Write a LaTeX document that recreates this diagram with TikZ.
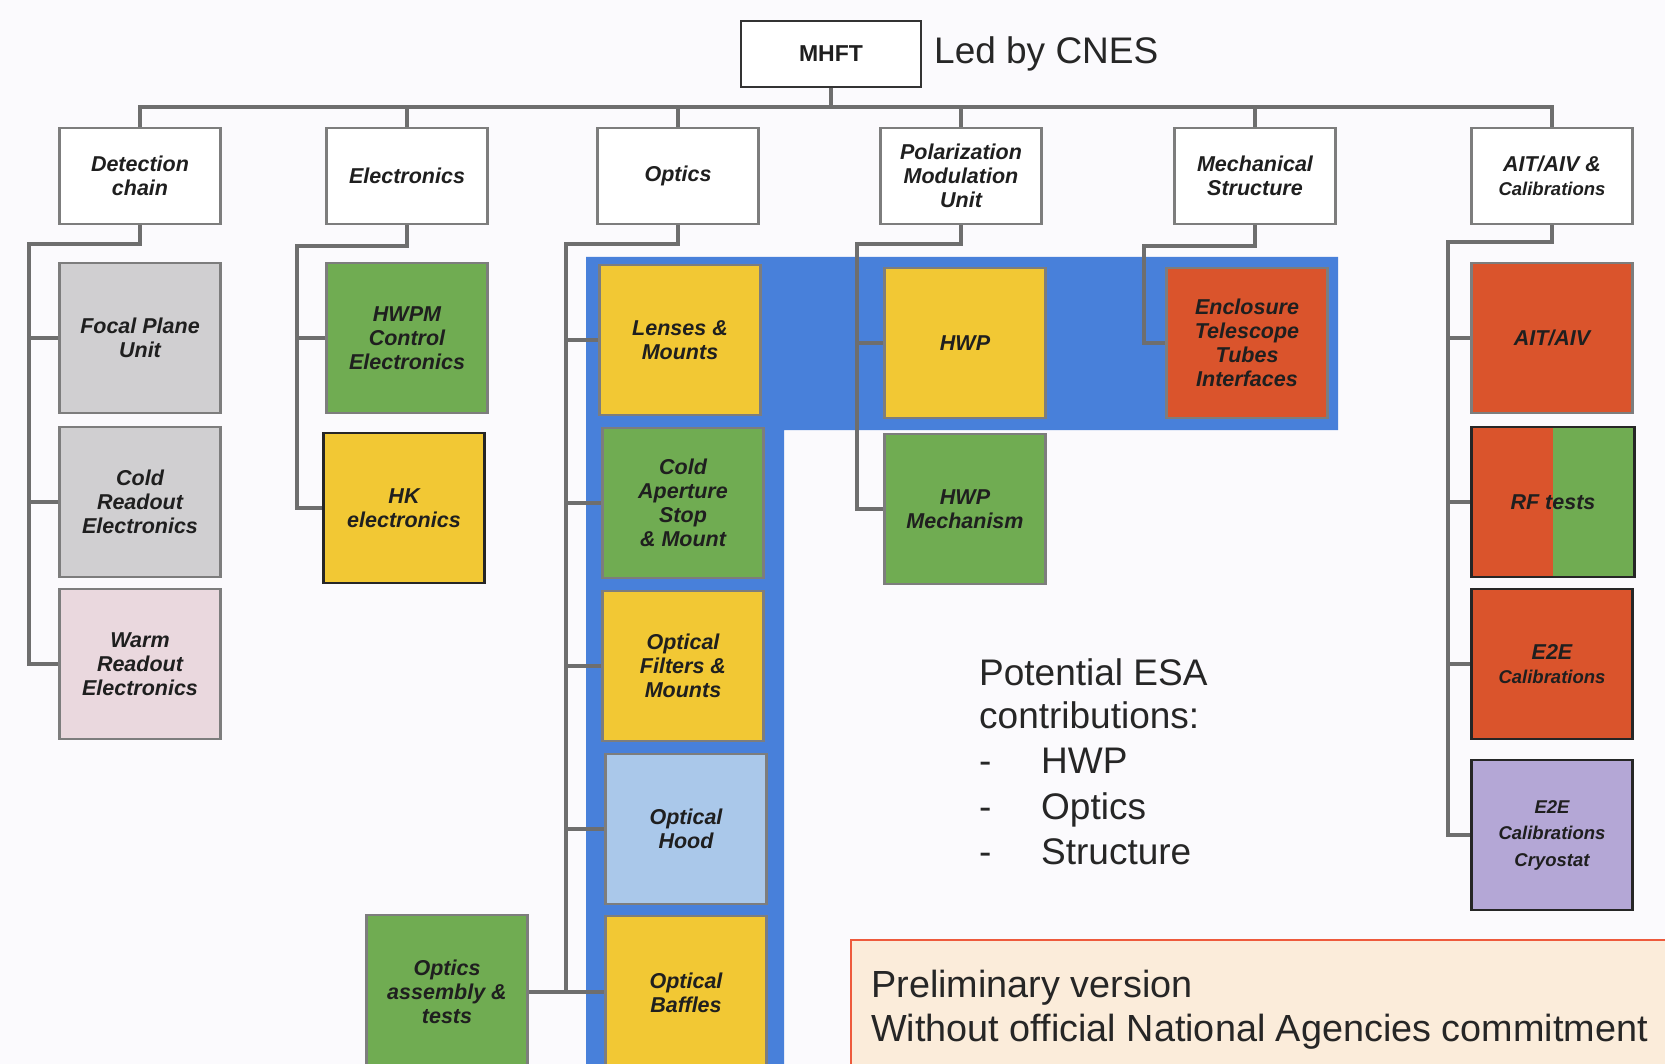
\documentclass[tikz,border=0pt]{standalone}
\usepackage{fontspec}
\setmainfont{Liberation Sans}
\definecolor{cgray}{RGB}{208,207,209}
\definecolor{cpink}{RGB}{234,216,222}
\definecolor{cgreen}{RGB}{112,172,82}
\definecolor{cyellow}{RGB}{242,200,52}
\definecolor{cred}{RGB}{218,84,44}
\definecolor{clblue}{RGB}{170,200,234}
\definecolor{cpurple}{RGB}{180,167,214}
\definecolor{cblue}{RGB}{72,128,218}
\definecolor{cline}{RGB}{110,110,110}
\definecolor{cborder}{RGB}{125,125,125}
\definecolor{cpeach}{RGB}{251,236,218}
\definecolor{cpborder}{RGB}{238,90,60}
\definecolor{cbg}{RGB}{251,250,253}
\begin{document}
\begin{tikzpicture}[x=1pt,y=-1pt,
  box/.style={draw=cborder, line width=2.5pt, minimum width=161pt, minimum height=150pt,
    align=center, inner sep=2pt, text=black!88,
    font=\fontsize{21.5}{24}\selectfont\bfseries\itshape},
  topbox/.style={box, fill=white, minimum height=96pt},
  darkbox/.style={box, draw=black!85},
  conn/.style={draw=cline, line width=4pt},
  bigtext/.style={font=\fontsize{37}{44}\selectfont, text=black!85, inner sep=0pt}
]
\useasboundingbox (0,0) rectangle (1665,1064);
\clip (0,0) rectangle (1665,1064);
\fill[cbg] (0,0) rectangle (1665,1064);

% blue L-shaped background
\fill[cblue] (586,257) -- (1338,257) -- (1338,430) -- (784,430) -- (784,1070) -- (586,1070) -- cycle;

% top
\node[box, draw=black!80, fill=white, minimum width=180pt, minimum height=66pt, font=\fontsize{23}{24}\selectfont\bfseries] (mhft) at (831,54) {MHFT};
\node[bigtext, anchor=base west] (led) at (934,64) {Led by CNES};

% level 1
\node[topbox] (det) at (140,176) {Detection\\chain};
\node[topbox] (ele) at (407,176) {Electronics};
\node[topbox] (opt) at (678,176) {Optics};
\node[topbox] (pol) at (961,176) {Polarization\\Modulation\\Unit};
\node[topbox] (mec) at (1255,176) {Mechanical\\Structure};
\node[topbox] (ait) at (1552,176) {AIT/AIV \&\\{\fontsize{18.5}{20}\selectfont Calibrations}};

% level 2 - detection
\node[box, fill=cgray] (fpu) at (140,338) {Focal Plane\\Unit};
\node[box, fill=cgray] (cre) at (140,502) {Cold\\Readout\\Electronics};
\node[box, fill=cpink] (wre) at (140,664) {Warm\\Readout\\Electronics};

% electronics
\node[box, fill=cgreen] (hwpm) at (407,338) {HWPM\\Control\\Electronics};
\node[darkbox, fill=cyellow] (hk) at (404,508) {HK\\electronics};

% optics
\node[box, fill=cyellow] (len) at (680,340) {Lenses \&\\Mounts};
\node[box, fill=cgreen] (cas) at (683,503) {Cold\\Aperture\\Stop\\\& Mount};
\node[box, fill=cyellow] (off) at (683,666) {Optical\\Filters \&\\Mounts};
\node[box, fill=clblue] (hood) at (686,829) {Optical\\Hood};
\node[box, fill=cyellow, minimum height=154pt] (baf) at (686,993) {Optical\\Baffles};
\node[box, fill=cgreen, minimum height=154pt] (oat) at (447,992) {Optics\\assembly \&\\tests};

% polarization
\node[box, fill=cyellow] (hwp) at (965,343) {HWP};
\node[box, fill=cgreen] (hwpmech) at (965,509) {HWP\\Mechanism};

% mechanical
\node[box, fill=cred] (enc) at (1247,343) {Enclosure\\Telescope\\Tubes\\Interfaces};

% AIT
\node[box, fill=cred] (aitaiv) at (1552,338) {AIT/AIV};
\node[darkbox, fill=cred, minimum width=163pt,
  path picture={\fill[cgreen] (path picture bounding box.north) rectangle (path picture bounding box.south east);}] (rf) at (1553,502) {RF tests};
\node[darkbox, fill=cred] (e2e) at (1552,664) {E2E\\{\fontsize{18.5}{20}\selectfont Calibrations}};
\node[darkbox, fill=cpurple, font=\fontsize{18.5}{26.5}\selectfont\bfseries\itshape] (cryo) at (1552,835) {E2E\\Calibrations\\Cryostat};

% connectors: top bus
\coordinate (bus) at (831,107);
\draw[conn] (det.north) |- (bus) -| (ait.north);
\draw[conn] (mhft.south) -- (bus);
\foreach \n in {ele,opt,pol,mec} \draw[conn] (\n.north) -- (\n.north |- bus);

% detection
\coordinate (dj) at (29,244);
\draw[conn] (det.south) |- (dj) |- (wre.west);
\draw[conn] (dj |- fpu.west) -- (fpu.west);
\draw[conn] (dj |- cre.west) -- (cre.west);

% electronics
\coordinate (ej) at (297,246);
\draw[conn] (ele.south) |- (ej) |- (hk.west);
\draw[conn] (ej |- hwpm.west) -- (hwpm.west);

% optics
\coordinate (oj) at (566,244);
\draw[conn] (opt.south) |- (oj) |- (baf.west |- oat.east);
\draw[conn] (oat.east) -- (oj |- oat.east);
\foreach \n in {len,cas,off,hood} \draw[conn] (oj |- \n.west) -- (\n.west);

% polarization
\coordinate (pj) at (857,244);
\draw[conn] (pol.south) |- (pj) |- (hwpmech.west);
\draw[conn] (pj |- hwp.west) -- (hwp.west);

% mechanical
\coordinate (mj) at (1144,246);
\draw[conn] (mec.south) |- (mj) |- (enc.west);

% AIT
\coordinate (aj) at (1448,242);
\draw[conn] (ait.south) |- (aj) |- (cryo.west);
\foreach \n in {aitaiv,rf,e2e} \draw[conn] (aj |- \n.west) -- (\n.west);

% ESA text
\node[bigtext, anchor=base west] (esa1) at (979,685) {Potential ESA};
\node[bigtext, anchor=base west] (esa2) at (979,728) {contributions:};
\node[bigtext, anchor=base west] (d1) at (979,773) {-};
\node[bigtext, anchor=base west] (i1) at (1041,773) {HWP};
\node[bigtext, anchor=base west] (d2) at (979,819) {-};
\node[bigtext, anchor=base west] (i2) at (1041,819) {Optics};
\node[bigtext, anchor=base west] (d3) at (979,864) {-};
\node[bigtext, anchor=base west] (i3) at (1041,864) {Structure};

% preliminary box
\draw[fill=cpeach, draw=cpborder, line width=2.5pt] (851,940) rectangle (1680,1080);
\node[bigtext, anchor=base west, font=\fontsize{37.8}{44}\selectfont] (p1) at (871,997) {Preliminary version};
\node[bigtext, anchor=base west, font=\fontsize{37.8}{44}\selectfont] (p2) at (871,1041) {Without official National Agencies commitment};
\end{tikzpicture}
\end{document}
